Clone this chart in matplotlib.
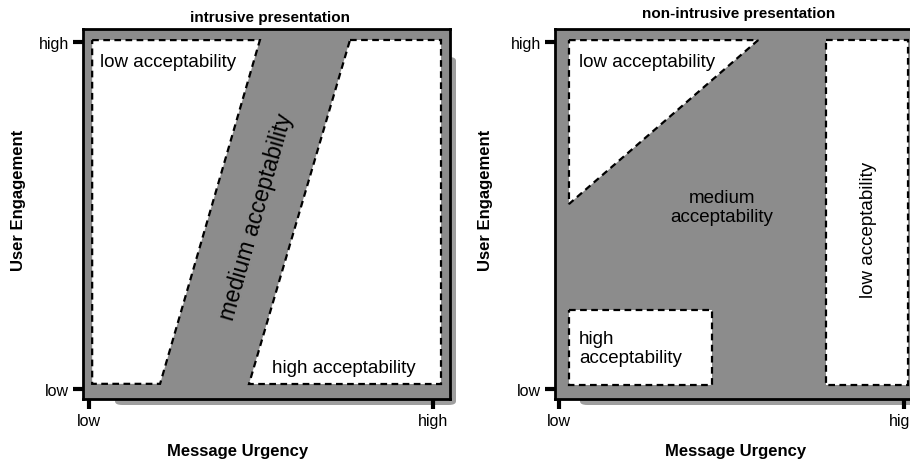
import matplotlib
matplotlib.use("Agg")
import matplotlib.pyplot as plt
from matplotlib.patches import Polygon, FancyBboxPatch

plt.rcParams["font.family"] = ["Liberation Sans", "DejaVu Sans"]

# region outlines, in axis fractions (x = message urgency, y = user engagement)
intrusive_low = [(0.025, 0.970), (0.482, 0.970), (0.210, 0.041), (0.025, 0.041)]
intrusive_high = [(0.728, 0.970), (0.975, 0.970), (0.975, 0.041), (0.452, 0.041)]
nonintr_low_tri = [(0.038, 0.970), (0.552, 0.970), (0.038, 0.527)]
nonintr_high_box = [(0.038, 0.241), (0.427, 0.241), (0.427, 0.038), (0.038, 0.038)]
nonintr_low_col = [(0.736, 0.970), (0.959, 0.970), (0.959, 0.038), (0.736, 0.038)]

left_xticks = [0.016, 0.954]
left_yticks = [0.027, 0.965]
right_xticks = [0.011, 0.948]
right_yticks = [0.027, 0.965]
tick_labels = ["low", "high"]

W, H = 910, 464
GRAY = "#8c8c8c"
SHADOW = "#9e9e9e"

fig = plt.figure(figsize=(W / 100, H / 100), dpi=100)


def px_ax(x0, x1, y_top, y_bot):
    return fig.add_axes([x0 / W, (H - y_bot) / H, (x1 - x0) / W, (y_bot - y_top) / H])


def shadow(x0, x1, y_top, y_bot):
    p = FancyBboxPatch((x0 / W, (H - y_bot) / H), (x1 - x0) / W, (y_bot - y_top) / H,
                       boxstyle="round,pad=0,rounding_size=0.008",
                       transform=fig.transFigure, facecolor=SHADOW,
                       edgecolor="none", zorder=-1)
    fig.patches.append(p)


def setup(ax, xt, yt):
    ax.set_xlim(0, 1)
    ax.set_ylim(0, 1)
    ax.set_facecolor(GRAY)
    for s in ax.spines.values():
        s.set_linewidth(2)
    ax.set_xticks(xt, tick_labels)
    ax.set_yticks(yt, tick_labels)
    ax.tick_params(length=7, width=3, direction="out", labelsize=11.5, pad=3)


def region(ax, pts):
    ax.add_patch(Polygon(pts, closed=True, facecolor="white", edgecolor="black",
                         linestyle=(0, (3, 2)), linewidth=1.6, zorder=2))


TXT = 13.5

# left: intrusive presentation
shadow(115, 456, 58, 406)
ax1 = px_ax(83, 450, 30, 400)
setup(ax1, left_xticks, left_yticks)
region(ax1, intrusive_low)
region(ax1, intrusive_high)
ax1.text(0.047, 0.9, "low acceptability", fontsize=TXT, va="baseline", zorder=3)
ax1.text(0.515, 0.085, "high acceptability", fontsize=TXT, va="center", zorder=3)
ax1.text(0.472, 0.495, "medium acceptability", fontsize=16.5, rotation=74,
         rotation_mode="anchor", ha="center", va="center", zorder=3)
ax1.set_title("intrusive presentation", fontsize=11, fontweight="bold", pad=6, x=0.51)
ax1.text(-0.175, 0.54, "User Engagement", transform=ax1.transAxes, rotation=90,
         fontsize=12, fontweight="bold", ha="center", va="center")
ax1.text(0.42, -0.14, "Message Urgency", transform=ax1.transAxes,
         fontsize=12, fontweight="bold", ha="center", va="center")

# right: non-intrusive presentation
shadow(580, 930, 58, 406)
ax2 = px_ax(555, 923, 30, 400)
setup(ax2, right_xticks, right_yticks)
region(ax2, nonintr_low_tri)
region(ax2, nonintr_high_box)
region(ax2, nonintr_low_col)
ax2.text(0.065, 0.9, "low acceptability", fontsize=TXT, va="baseline", zorder=3)
ax2.text(0.065, 0.138, "high\nacceptability", fontsize=TXT, va="center",
         ha="left", linespacing=1.15, zorder=3)
ax2.text(0.454, 0.52, "medium\nacceptability", fontsize=TXT, va="center",
         ha="center", linespacing=1.15, zorder=3)
ax2.text(0.852, 0.46, "low acceptability", fontsize=TXT, rotation=90,
         ha="center", va="center", zorder=3)
ax2.text(0.5, 1.042, "non-intrusive presentation", transform=ax2.transAxes,
         fontsize=11, fontweight="bold", ha="center", va="center")
ax2.text(-0.19, 0.54, "User Engagement", transform=ax2.transAxes, rotation=90,
         fontsize=12, fontweight="bold", ha="center", va="center")
ax2.text(0.492, -0.14, "Message Urgency", transform=ax2.transAxes,
         fontsize=12, fontweight="bold", ha="center", va="center")

fig.savefig("out.png", dpi=100, facecolor="white")
